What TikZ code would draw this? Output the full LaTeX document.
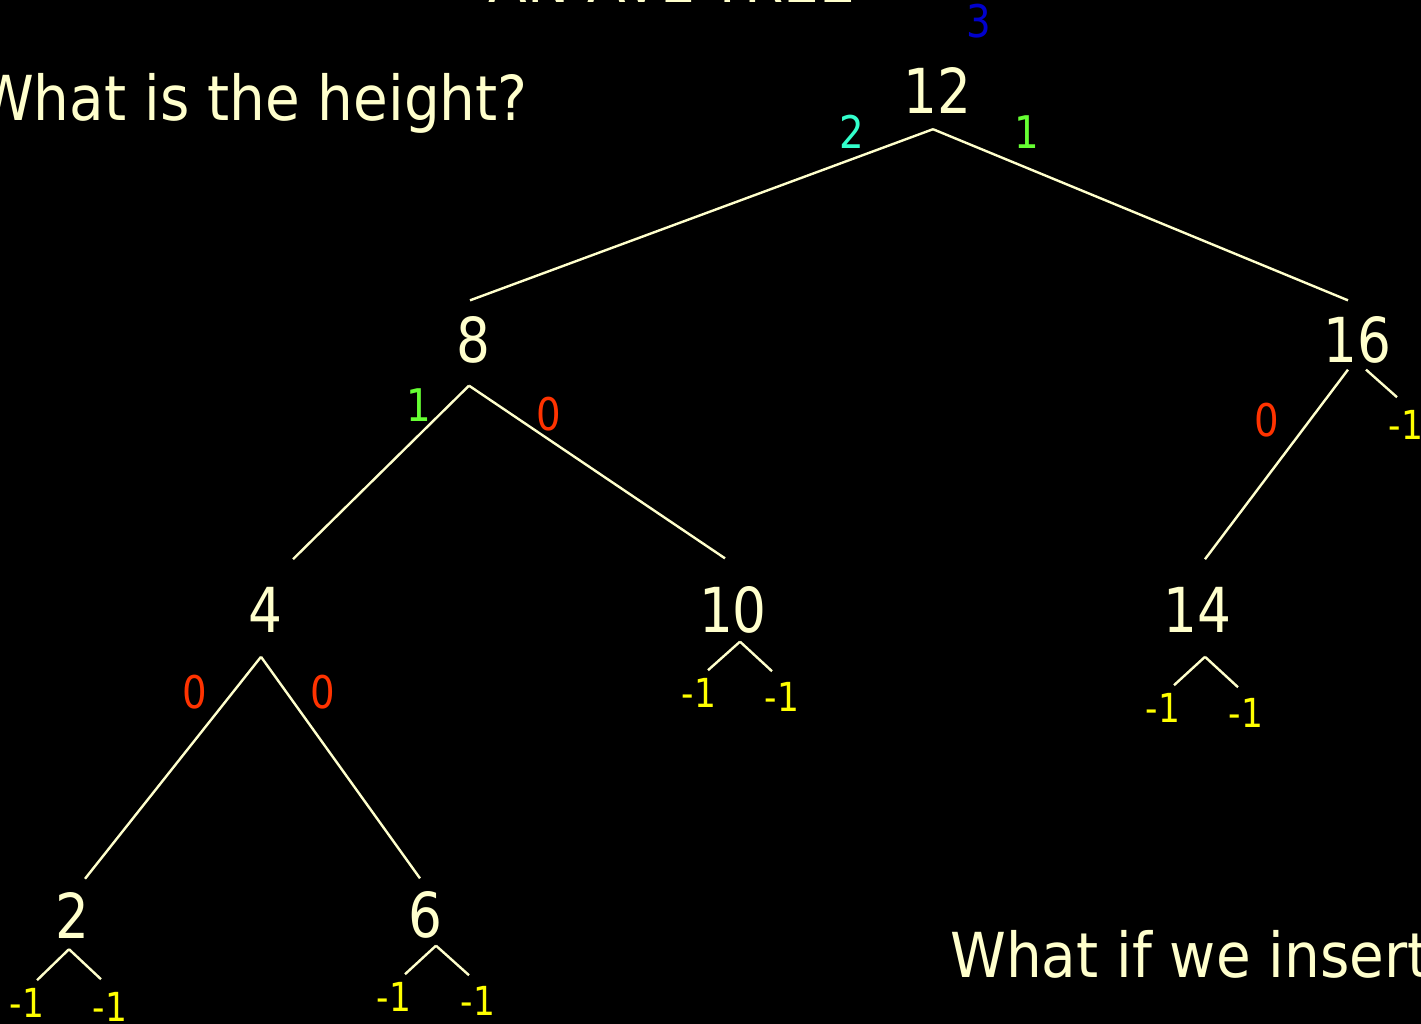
\documentclass[tikz,border=0pt]{standalone}
\usepackage{fontspec}
\setmainfont{DejaVu Sans}[FakeStretch=0.86]
\newfontfamily\notefont{DejaVu Sans}[FakeStretch=0.91]
\usepackage{xcolor}
\usepackage{tikz}
\definecolor{cream}{RGB}{255,255,204}
\definecolor{balcyan}{RGB}{51,255,204}
\definecolor{balgreen}{RGB}{102,255,51}
\definecolor{balred}{RGB}{255,51,0}
\definecolor{nullyel}{RGB}{255,255,0}
\definecolor{htblue}{RGB}{0,0,204}

\begin{document}
\begin{tikzpicture}[x=1pt, y=-1pt,
  key/.style={text=cream, inner sep=16pt, font=\fontsize{62}{70}\selectfont},
  bal/.style={inner sep=2pt, font=\fontsize{45}{50}\selectfont},
  nil/.style={text=nullyel, inner sep=8pt, font=\fontsize{40}{46}\selectfont},
  note/.style={text=cream, inner sep=0pt, font=\notefont\fontsize{62}{70}\selectfont},
  edge/.style={draw=cream, line width=2.4pt}]
  \fill[black] (0,0) rectangle (1421,1024);
  \clip (0,0) rectangle (1421,1024);
  % title and questions
  \node[note, anchor=base] (title) at (672,3) {AN AVL TREE};
  \node[note, anchor=base west] (ask1) at (-22,121) {What is the height?};
  \node[note, anchor=base west] (ask2) at (950,977) {What if we insert};
  % keys
  \node[key] (n12) at (937,90) {12};
  \node[key] (n8) at (473,340) {8};
  \node[key] (n16) at (1357,340) {16};
  \node[key] (n4) at (265,610) {4};
  \node[key] (n10) at (733,610) {10};
  \node[key] (n14) at (1197,610) {14};
  \node[key] (n2) at (72,915) {2};
  \node[key] (n6) at (425,915) {6};
  % heights
  \node[bal, text=htblue] (h12) at (979,21) {3};
  \node[bal, text=balcyan] (h8) at (852,132) {2};
  \node[bal, text=balgreen] (h16) at (1027,132) {1};
  \node[bal, text=balgreen] (h4) at (419,405) {1};
  \node[bal, text=balred] (h10) at (549,414) {0};
  \node[bal, text=balred] (h14) at (1267,420) {0};
  \node[bal, text=balred] (h2) at (195,692) {0};
  \node[bal, text=balred] (h6) at (323,692) {0};
  % empty subtrees
  \node[nil] (e16r) at (1406,425) {-1};
  \node[nil] (e10l) at (699,693) {-1};
  \node[nil] (e10r) at (782,697) {-1};
  \node[nil] (e14l) at (1163,708) {-1};
  \node[nil] (e14r) at (1246,713) {-1};
  \node[nil] (e2l) at (27,1003) {-1};
  \node[nil] (e2r) at (110,1007) {-1};
  \node[nil] (e6l) at (394,997) {-1};
  \node[nil] (e6r) at (478,1001) {-1};
  % tree edges
  \draw[edge] ([xshift=-4pt]n12.south) -- ([xshift=-3pt]n8.north);
  \draw[edge] ([xshift=-4pt]n12.south) -- ([xshift=-9pt]n16.north);
  \draw[edge] ([xshift=-4pt,yshift=-6pt]n8.south) -- ([xshift=28pt,yshift=12pt]n4.north);
  \draw[edge] ([xshift=-4pt,yshift=-6pt]n8.south) -- ([xshift=-8pt,yshift=12pt]n10.north);
  \draw[edge] ([xshift=-9pt,yshift=10pt]n16.south) -- ([xshift=8pt,yshift=12pt]n14.north);
  \draw[edge] ([xshift=9pt,yshift=10pt]n16.south) -- ([xshift=-9pt,yshift=5pt]e16r.north);
  \draw[edge] ([xshift=-4pt,yshift=-8pt]n4.south) -- ([xshift=13pt,yshift=-3pt]n2.north);
  \draw[edge] ([xshift=-4pt,yshift=-8pt]n4.south) -- ([xshift=-5pt,yshift=-3pt]n6.north);
  % stubs to empty subtrees
  \draw[edge] ([xshift=7pt,yshift=8pt]n10.south) -- ([xshift=9pt]e10l.north);
  \draw[edge] ([xshift=7pt,yshift=8pt]n10.south) -- ([xshift=-10pt,yshift=3pt]e10r.north);
  \draw[edge] ([xshift=8pt,yshift=-8pt]n14.south) -- ([xshift=11pt]e14l.north);
  \draw[edge] ([xshift=8pt,yshift=-8pt]n14.south) -- ([xshift=-8pt,yshift=3pt]e14r.north);
  \draw[edge] ([xshift=-3pt,yshift=5pt]n2.south) -- ([xshift=10pt]e2l.north);
  \draw[edge] ([xshift=-3pt,yshift=5pt]n2.south) -- ([xshift=-9pt,yshift=5pt]e2r.north);
  \draw[edge] ([xshift=11pt,yshift=9pt]n6.south) -- ([xshift=11pt]e6l.north);
  \draw[edge] ([xshift=11pt,yshift=9pt]n6.south) -- ([xshift=-9pt,yshift=3pt]e6r.north);
\end{tikzpicture}
\end{document}
